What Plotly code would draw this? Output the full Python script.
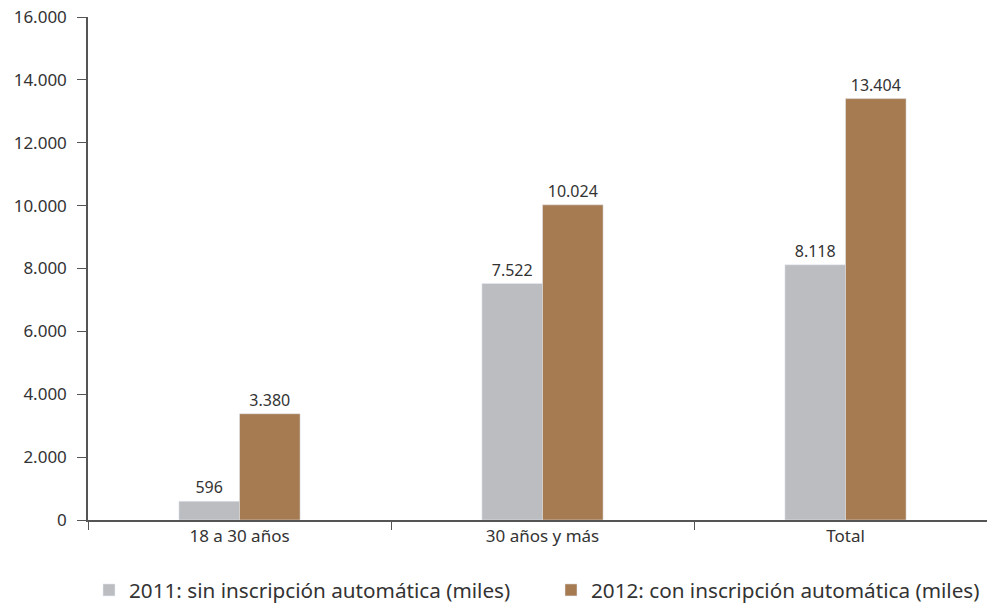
import plotly.graph_objects as go

categories = ["18 a 30 años", "30 años y más", "Total"]
valores_2011 = [596, 7522, 8118]
valores_2012 = [3380, 10024, 13404]
nombre_2011 = "2011: sin inscripción automática (miles)"
nombre_2012 = "2012: con inscripción automática (miles)"
y_ticks = [0, 2000, 4000, 6000, 8000, 10000, 12000, 14000, 16000]

gris = "#bcbdc0"
cafe = "#a67b51"
texto = "#333333"

W, H = 987, 604

fig = go.Figure()
fig.add_trace(go.Bar(
    x=categories, y=valores_2011, name=nombre_2011,
    marker_color=gris,
    texttemplate="%{y:,d}", textposition="outside",
    textfont=dict(size=16, color=texto),
    cliponaxis=False,
    legend="legend",
))
fig.add_trace(go.Bar(
    x=categories, y=valores_2012, name=nombre_2012,
    marker_color=cafe,
    texttemplate="%{y:,d}", textposition="outside",
    textfont=dict(size=16, color=texto),
    cliponaxis=False,
    legend="legend2",
))

leyenda = dict(
    orientation="h",
    xanchor="left", xref="container",
    y=1 - 590 / H, yanchor="middle", yref="container",
    font=dict(size=20.7, color=texto),
    bgcolor="rgba(0,0,0,0)",
)

fig.update_layout(
    width=W,
    height=H,
    margin=dict(l=88, r=0, t=17, b=84),
    paper_bgcolor="white",
    plot_bgcolor="white",
    font=dict(family="Noto Sans, Open Sans, sans-serif", color=texto, size=16),
    separators=",.",
    barmode="group",
    bargap=0.60,
    bargroupgap=0,
    showlegend=True,
    legend=dict(leyenda, x=89 / W),
    legend2=dict(leyenda, x=551 / W),
)
fig.update_xaxes(
    range=[-0.5, -0.5 + 899 / 303],
    automargin=False,
    showline=True, linecolor="#555555", linewidth=1.5,
    ticks="outside", tickson="boundaries", ticklen=8, tickcolor="#555555",
    tickfont=dict(size=17, color=texto),
    showgrid=False,
)
fig.update_yaxes(
    range=[0, 16000],
    automargin=False,
    tickvals=y_ticks,
    tickformat=",d",
    showline=True, linecolor="#555555", linewidth=1.5,
    ticks="outside", ticklen=9, tickcolor="#555555",
    ticklabelstandoff=7,
    tickfont=dict(size=17, color=texto),
    showgrid=False, zeroline=False,
)

# drop the default page margin so the figure sits at the window's corner
fig.write_html(
    "out.html",
    config={"displayModeBar": False},
    post_script="document.body.style.margin='0';document.body.style.overflow='hidden';",
)
